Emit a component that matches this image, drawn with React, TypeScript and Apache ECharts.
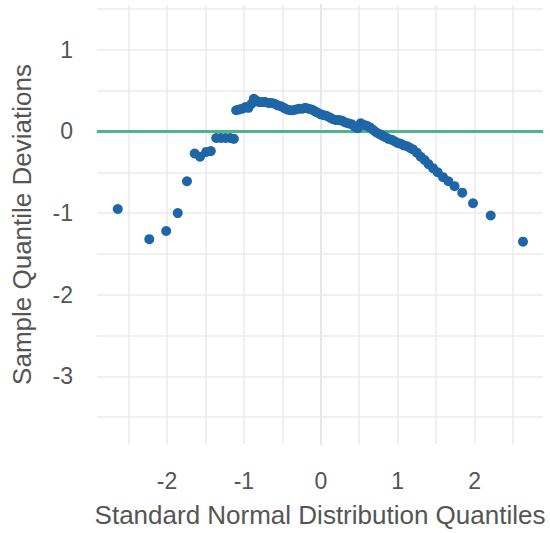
import React, { useEffect, useRef } from "react";
import * as echarts from "echarts";

// Q-Q points: [theoretical quantile, sample quantile deviation]
const theoreticalQuantiles: number[] = [
  -2.64, -2.23, -2.01, -1.86, -1.74, -1.64, -1.57, -1.49, -1.43, -1.36, -1.3, -1.24, -1.18, -1.13,
  -1.1, -1.06, -1.02, -0.98, -0.94, -0.9, -0.87, -0.84, -0.8, -0.76, -0.72, -0.68, -0.64, -0.6,
  -0.56, -0.52, -0.48, -0.44, -0.4, -0.36, -0.32, -0.28, -0.24, -0.2, -0.16, -0.12, -0.08, -0.04,
  0.0, 0.04, 0.08, 0.12, 0.16, 0.2, 0.24, 0.28, 0.32, 0.36, 0.4, 0.44, 0.48, 0.52, 0.56, 0.6,
  0.64, 0.68, 0.72, 0.76, 0.8, 0.84, 0.88, 0.92, 0.96, 1.0, 1.04, 1.08, 1.12, 1.16, 1.2, 1.25,
  1.3, 1.35, 1.4, 1.46, 1.52, 1.59, 1.66, 1.74, 1.84, 1.98, 2.21, 2.63,
];
const sampleDeviations: number[] = [
  -0.95, -1.32, -1.22, -1.0, -0.61, -0.27, -0.31, -0.25, -0.24, -0.08, -0.08, -0.08, -0.08, -0.09,
  0.26, 0.27, 0.28, 0.3, 0.29, 0.34, 0.4, 0.38, 0.36, 0.36, 0.36, 0.35, 0.35, 0.34,
  0.32, 0.31, 0.29, 0.27, 0.26, 0.26, 0.27, 0.28, 0.28, 0.29, 0.28, 0.27, 0.25, 0.23,
  0.21, 0.2, 0.19, 0.17, 0.15, 0.14, 0.14, 0.13, 0.11, 0.1, 0.09, 0.06, 0.04, 0.1, 0.08, 0.07,
  0.05, 0.02, -0.01, -0.03, -0.05, -0.07, -0.09, -0.1, -0.12, -0.14, -0.15, -0.17, -0.18, -0.2, -0.22, -0.26,
  -0.31, -0.35, -0.4, -0.45, -0.5, -0.56, -0.61, -0.67, -0.75, -0.88, -1.03, -1.35,
];

const xTickLabels: number[] = [-2, -1, 0, 1, 2];
const yTickLabels: number[] = [-3, -2, -1, 0, 1];
const xGridValues: number[] = [-2.5, -2, -1.5, -1, -0.5, 0, 0.5, 1, 1.5, 2, 2.5];
const yGridValues: number[] = [-3.5, -3, -2.5, -2, -1.5, -1, -0.5, 0, 0.5, 1, 1.5];
const referenceLine: number[] = [0];

const X_MIN = -2.91;
const X_MAX = 2.89;
const Y_MIN = -3.83;
const Y_MAX = 1.55;

export default function App() {
  const ref = useRef<HTMLDivElement>(null);

  useEffect(() => {
    document.body.style.margin = "0";
    if (!ref.current) return;
    const chart = echarts.init(ref.current, undefined, { renderer: "svg" });

    const points = theoreticalQuantiles.map((x, i) => [x, sampleDeviations[i]]);
    const font = "'Liberation Sans', Arial, Helvetica, sans-serif";
    const gridStyle = { color: "#ebebeb", width: 1.5, type: "solid" as const };

    chart.setOption({
      animation: false,
      backgroundColor: "#ffffff",
      grid: { left: 97, right: 7, top: 5, bottom: 89, containLabel: false },
      xAxis: {
        type: "value",
        min: X_MIN,
        max: X_MAX,
        name: "Standard Normal Distribution Quantiles",
        nameLocation: "middle",
        nameGap: 58,
        nameTextStyle: { fontSize: 26, color: "#555555", fontFamily: font },
        axisLine: { show: true, lineStyle: { color: "#d9d9d9", width: 2 } },
        axisTick: { show: false },
        splitLine: { show: false },
        axisLabel: {
          customValues: xTickLabels,
          fontSize: 23,
          color: "#555555",
          fontFamily: font,
          margin: 25,
        },
      },
      yAxis: {
        type: "value",
        min: Y_MIN,
        max: Y_MAX,
        name: "Sample Quantile Deviations",
        nameLocation: "middle",
        nameGap: 62,
        nameTextStyle: { fontSize: 26, color: "#555555", fontFamily: font },
        axisLine: { show: true, lineStyle: { color: "#d9d9d9", width: 2 } },
        axisTick: { show: false },
        splitLine: { show: false },
        axisLabel: {
          customValues: yTickLabels,
          fontSize: 23,
          color: "#555555",
          fontFamily: font,
          margin: 24,
        },
      },
      series: [
        {
          type: "scatter",
          data: [],
          silent: true,
          z: 1,
          markLine: {
            z: 1,
            silent: true,
            symbol: "none",
            label: { show: false },
            lineStyle: gridStyle,
            emphasis: { disabled: true },
            data: [
              ...xGridValues.map((v) => ({ xAxis: v })),
              ...yGridValues.map((v) => ({ yAxis: v })),
            ],
          },
        },
        {
          type: "scatter",
          data: [],
          silent: true,
          z: 2,
          markLine: {
            z: 2,
            silent: true,
            symbol: "none",
            label: { show: false },
            lineStyle: { color: "#4db589", width: 3, type: "solid" },
            emphasis: { disabled: true },
            data: referenceLine.map((v) => ({ yAxis: v })),
          },
        },
        {
          type: "scatter",
          z: 10,
          data: points,
          symbol: "circle",
          symbolSize: 10,
          itemStyle: { color: "#1f66a7", opacity: 1, borderWidth: 0 },
        },
      ],
    });

    return () => chart.dispose();
  }, []);

  return <div ref={ref} style={{ width: 550, height: 533 }} />;
}
